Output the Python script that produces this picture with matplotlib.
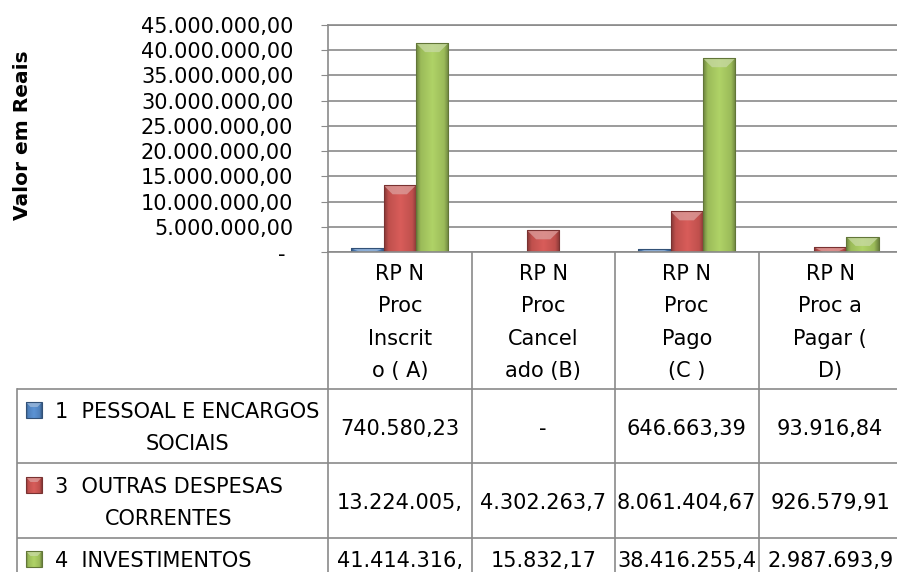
import numpy as np
import matplotlib
matplotlib.use("Agg")
import matplotlib.pyplot as plt
from matplotlib.colors import to_rgb
from matplotlib.patches import Polygon, Rectangle

plt.rcParams["font.family"] = ["DejaVu Sans"]

# dados do gráfico
categorias = [
    ["RP N", "Proc", "Inscrit", "o ( A)"],
    ["RP N", "Proc", "Cancel", "ado (B)"],
    ["RP N", "Proc", "Pago", "(C )"],
    ["RP N", "Proc a", "Pagar (", "D)"],
]
series = [
    ["1  PESSOAL E ENCARGOS", "SOCIAIS"],
    ["3  OUTRAS DESPESAS", "CORRENTES"],
    ["4  INVESTIMENTOS"],
]
pessoal = [740580.23, 0.0, 646663.39, 93916.84]
outras_despesas = [13224005.0, 4302263.7, 8061404.67, 926579.91]
investimentos = [41414316.0, 15832.17, 38416255.4, 2987693.9]
texto_tabela = [
    ["740.580,23", "-", "646.663,39", "93.916,84"],
    ["13.224.005,", "4.302.263,7", "8.061.404,67", "926.579,91"],
    ["41.414.316,", "15.832,17", "38.416.255,4", "2.987.693,9"],
]
yticks = [0, 5e6, 10e6, 15e6, 20e6, 25e6, 30e6, 35e6, 40e6, 45e6]
cores = ["#4F81BD", "#C0504D", "#9BBB59"]

W, H = 897, 572
AX_L, AX_R, AX_T, AX_B = 328, 902, 25, 252
GRADE = "#8a8a8a"


def br(v):
    s = f"{v:,.2f}"
    return s.replace(",", "X").replace(".", ",").replace("X", ".")


def sombrear(ax, x0, x1, ybase, ytopo, cor, prof, clip=None, z=2):
    base = np.array(to_rgb(cor))
    escuro = base * 0.70
    claro = np.clip(base * 1.10 + 0.02, 0, 1)
    t = np.linspace(0, 1, 64)
    stops = [0, 0.14, 0.5, 0.86, 1]
    linha = np.stack([np.interp(t, stops, [escuro[c], base[c], claro[c], base[c], escuro[c]])
                      for c in range(3)], axis=-1)
    img = np.repeat(linha[None, :, :], 2, axis=0)
    lo, hi = min(ybase, ytopo), max(ybase, ytopo)
    im = ax.imshow(img, extent=(x0, x1, lo, hi), aspect="auto",
                   interpolation="bilinear", zorder=z)
    if clip is not None:
        im.set_clip_path(clip)
    # chanfro claro no topo
    sinal = 1 if ytopo > ybase else -1
    d = min(prof, abs(ytopo - ybase)) * sinal
    w = x1 - x0
    topo = np.clip(base * 0.55 + 0.45, 0, 1)
    chanfro = Polygon([(x0, ytopo), (x1, ytopo), (x1 - 0.28 * w, ytopo - d), (x0 + 0.28 * w, ytopo - d)],
                      closed=True, facecolor=topo, edgecolor="none", alpha=0.75, zorder=z + 0.1)
    ax.add_patch(chanfro)
    if clip is not None:
        chanfro.set_clip_path(clip)
    ax.add_patch(Rectangle((x0, lo), w, hi - lo, fill=False, edgecolor=escuro * 0.9,
                           lw=0.8, zorder=z + 0.2))


fig = plt.figure(figsize=(W / 100, H / 100), dpi=100)

# camada em pixels para a tabela de dados
tab = fig.add_axes([0, 0, 1, 1])
tab.set_xlim(0, W)
tab.set_ylim(H, 0)
tab.axis("off")

ax = fig.add_axes([AX_L / W, 1 - AX_B / H, (AX_R - AX_L) / W, (AX_B - AX_T) / H])
ax.set_facecolor("white")

x = np.arange(len(categorias))
largura = 0.226
escala = 45e6 / (AX_B - AX_T)
for i, (vals, cor) in enumerate(zip([pessoal, outras_despesas, investimentos], cores)):
    barras = ax.bar(x + (i - 1) * largura, vals, largura, color=cor, zorder=2, linewidth=0)
    for b in barras:
        if b.get_height() <= 0:
            continue
        sombrear(ax, b.get_x(), b.get_x() + b.get_width(), 0, b.get_height(), cor,
                 9 * escala, clip=b, z=2.05)

ax.set_xlim(-0.5, len(categorias) - 0.5)
ax.set_ylim(0, 45e6)
ax.set_xticks([])
ax.set_yticks(yticks, ["" if v == 0 else br(v) for v in yticks])
ax.tick_params(axis="y", direction="out", length=5, color=GRADE, labelsize=15, pad=20)
ax.yaxis.grid(True, color=GRADE, lw=1.2)
ax.set_axisbelow(True)
for lado in ["left", "bottom", "top"]:
    ax.spines[lado].set_color(GRADE)
    ax.spines[lado].set_linewidth(1.2)
ax.spines["right"].set_visible(False)
ax.annotate("-", xy=(0, 0), xycoords=("axes fraction", "data"), xytext=(-43 * 0.72, -3 * 0.72),
            textcoords="offset points", ha="right", va="center", fontsize=15)

fig.text(23 / W, 1 - 135 / H, "Valor em Reais", rotation=90, ha="center", va="center",
         fontsize=14.5, fontweight="bold")

# grade da tabela
bordas = np.linspace(AX_L, AX_R, len(categorias) + 1)
linhas_y = [389, 463, 538]
TAB_L, TAB_FIM = 17, 600
for y in linhas_y:
    tab.plot([TAB_L, AX_R], [y, y], color=GRADE, lw=1.2, solid_capstyle="butt")
tab.plot([TAB_L, TAB_L], [linhas_y[0], TAB_FIM], color=GRADE, lw=1.2)
for xb in bordas:
    tab.plot([xb, xb], [AX_B, TAB_FIM], color=GRADE, lw=1.2)

centros = (bordas[:-1] + bordas[1:]) / 2
base_cat = [280, 312.5, 345, 377]
for cx, linhas in zip(centros, categorias):
    for yb, txt in zip(base_cat, linhas):
        tab.text(cx, yb, txt, ha="center", va="baseline", fontsize=15)

base_linhas = [[418, 450], [493, 525], [567]]
base_valores = [435, 509, 567]
renderer = fig.canvas.get_renderer()
for serie, bases, cor, textos, yv in zip(series, base_linhas, cores, texto_tabela, base_valores):
    primeira = tab.text(55, bases[0], serie[0], ha="left", va="baseline", fontsize=15)
    bb = primeira.get_window_extent(renderer)
    meio = (bb.x0 + bb.x1) / 2
    for txt, yb in zip(serie[1:], bases[1:]):
        tab.text(meio, yb, txt, ha="center", va="baseline", fontsize=15)
    sombrear(tab, 26, 42, bases[0], bases[0] - 16, cor, 5, z=3)
    for cx, txt in zip(centros, textos):
        tab.text(cx, yv, txt, ha="center", va="baseline", fontsize=15)

tab.set_xlim(0, W)
tab.set_ylim(H, 0)
fig.savefig("out.png", dpi=100)
